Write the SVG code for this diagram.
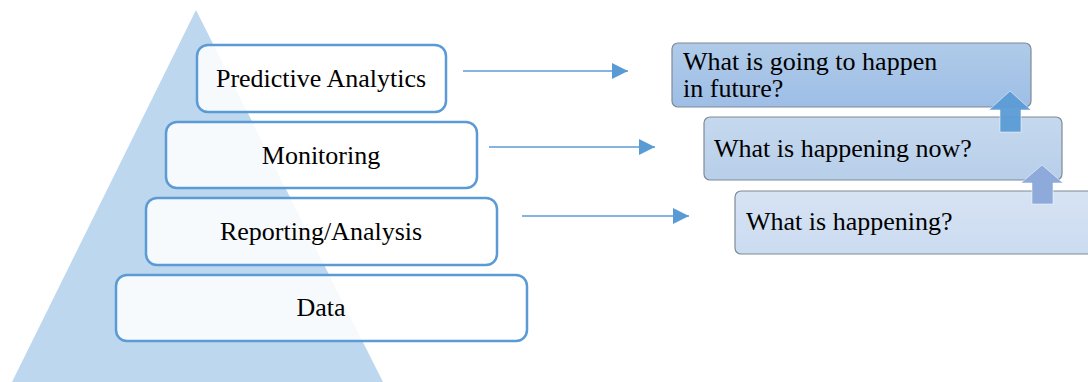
<svg xmlns="http://www.w3.org/2000/svg" width="1088" height="382" viewBox="0 0 1088 382">
  <defs>
    <style>
      text { font-family: "Liberation Serif", "Times New Roman", serif; font-size: 26px; fill: #000; }
      .level { fill: #ffffff; fill-opacity: 0.88; stroke: #5b9bd5; stroke-width: 2.5; }
      .q { stroke: #7f8a96; stroke-width: 1.2; }
      .conn { stroke: #5b9bd5; stroke-width: 1.4; fill: none; }
    </style>
    <linearGradient id="gA" x1="0" y1="0" x2="0" y2="1">
      <stop offset="0" stop-color="#b0cbe9"/>
      <stop offset="1" stop-color="#9ebee6"/>
    </linearGradient>
    <linearGradient id="gB" x1="0" y1="0" x2="0" y2="1">
      <stop offset="0" stop-color="#c5d8ee"/>
      <stop offset="1" stop-color="#b8cfea"/>
    </linearGradient>
    <linearGradient id="gC" x1="0" y1="0" x2="0" y2="1">
      <stop offset="0" stop-color="#d6e3f3"/>
      <stop offset="1" stop-color="#cbdbf0"/>
    </linearGradient>
    <marker id="head" viewBox="0 0 16 16" refX="16" refY="8" markerWidth="16" markerHeight="16" markerUnits="userSpaceOnUse" orient="auto">
      <path d="M0,0 L16,8 L0,16 Z" fill="#5b9bd5"/>
    </marker>
  </defs>

  <!-- pyramid backdrop -->
  <polygon points="196,10 12,382 383,382" fill="#bdd7ee"/>

  <!-- pyramid levels -->
  <g id="predictive-analytics">
    <rect class="level" x="197" y="45" width="249" height="67" rx="11"/>
    <text x="321" y="87" text-anchor="middle">Predictive Analytics</text>
  </g>
  <g id="monitoring">
    <rect class="level" x="166" y="122" width="311" height="66" rx="11"/>
    <text x="321" y="164" text-anchor="middle">Monitoring</text>
  </g>
  <g id="reporting-analysis">
    <rect class="level" x="146" y="198" width="351" height="67" rx="11"/>
    <text x="321" y="240" text-anchor="middle">Reporting/Analysis</text>
  </g>
  <g id="data">
    <rect class="level" x="116" y="275" width="411" height="66" rx="11"/>
    <text x="321" y="316" text-anchor="middle">Data</text>
  </g>

  <!-- question boxes -->
  <g id="q-happening">
    <rect class="q" x="735" y="191" width="370" height="63" rx="6" fill="url(#gC)"/>
    <text x="746" y="230">What is happening?</text>
  </g>
  <g id="q-now">
    <rect class="q" x="704" y="117" width="358" height="63" rx="6" fill="url(#gB)"/>
    <text x="714" y="157">What is happening now?</text>
  </g>
  <g id="q-future">
    <rect class="q" x="672" y="43" width="359" height="64" rx="6" fill="url(#gA)"/>
    <text x="683" y="70">What is going to happen</text>
    <text x="683" y="97">in future?</text>
  </g>

  <!-- connectors -->
  <g id="connectors">
    <line class="conn" x1="463" y1="71" x2="628" y2="71" marker-end="url(#head)"/>
    <line class="conn" x1="489" y1="147" x2="655" y2="147" marker-end="url(#head)"/>
    <line class="conn" x1="522" y1="216" x2="689" y2="216" marker-end="url(#head)"/>
    <!-- upward block arrows between question boxes -->
    <polygon points="1010,91 1031,110 1021,110 1021,132 1000,132 1000,110 989,110" fill="#5b9bd5" fill-opacity="0.95" stroke="#ffffff" stroke-opacity="0.5" stroke-width="1"/>
    <polygon points="1042,165 1063,183 1053,183 1053,204 1032,204 1032,183 1021,183" fill="#8eaadb" stroke="#ffffff" stroke-opacity="0.5" stroke-width="1"/>
  </g>
</svg>
